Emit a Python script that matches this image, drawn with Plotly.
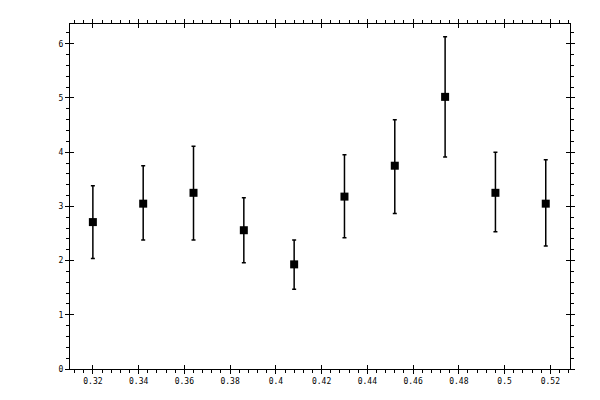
import plotly.graph_objects as go

# 데이터
x_vals = [0.32, 0.342, 0.364, 0.386, 0.408, 0.430, 0.452, 0.474, 0.496, 0.518]
y_vals = [2.71, 3.05, 3.25, 2.56, 1.93, 3.18, 3.75, 5.02, 3.25, 3.05]
y_high = [3.38, 3.75, 4.11, 3.16, 2.38, 3.95, 4.60, 6.13, 4.00, 3.86]
y_low = [2.04, 2.38, 2.38, 1.96, 1.47, 2.42, 2.87, 3.91, 2.53, 2.27]

err_plus = [h - y for h, y in zip(y_high, y_vals)]
err_minus = [y - l for y, l in zip(y_vals, y_low)]

X_RANGE = [0.3100, 0.5286]
Y_RANGE = [0, 6.364]
FONT = dict(family="DejaVu Sans Mono", size=8, color="black")

fig = go.Figure()

fig.add_trace(go.Scatter(
    x=x_vals, y=y_vals, mode='markers',
    marker=dict(symbol='square', size=8, color='black'),
    error_y=dict(type='data', symmetric=False, array=err_plus, arrayminus=err_minus,
                 color='black', thickness=1.5, width=2),
    showlegend=False, hoverinfo='skip'
))

# 안쪽 눈금용 빈 trace
fig.add_trace(go.Scatter(x=[None], y=[None], xaxis='x2', yaxis='y2', showlegend=False))

axis_common = dict(showgrid=False, zeroline=False, showline=True, linecolor='black',
                   linewidth=1, mirror='ticks', ticks='outside', ticklen=4,
                   tickcolor='black', tickwidth=1, tickfont=FONT)

# 페이지 body 여백(8px) 보정
fig.update_layout(
    width=600, height=400,
    margin=dict(l=62, r=38, t=11, b=39),
    plot_bgcolor='white', paper_bgcolor='white',
    xaxis=dict(range=X_RANGE, tick0=0, dtick=0.02, ticklabelstandoff=0,
               minor=dict(dtick=0.004, ticklen=3, ticks='outside', tickcolor='black'),
               **axis_common),
    yaxis=dict(range=Y_RANGE, tick0=0, dtick=1,
               minor=dict(dtick=0.2, ticklen=3, ticks='outside', tickcolor='black'),
               **axis_common),
    xaxis2=dict(range=X_RANGE, overlaying='x', side='bottom', tick0=0, dtick=0.02,
                ticks='inside', ticklen=4, tickcolor='black', mirror='ticks',
                showticklabels=False, showgrid=False, zeroline=False, showline=False),
    yaxis2=dict(range=Y_RANGE, overlaying='y', side='left', tick0=0, dtick=1,
                ticks='inside', ticklen=4, tickcolor='black', mirror='ticks',
                showticklabels=False, showgrid=False, zeroline=False, showline=False),
)

fig.write_html("out.html")
